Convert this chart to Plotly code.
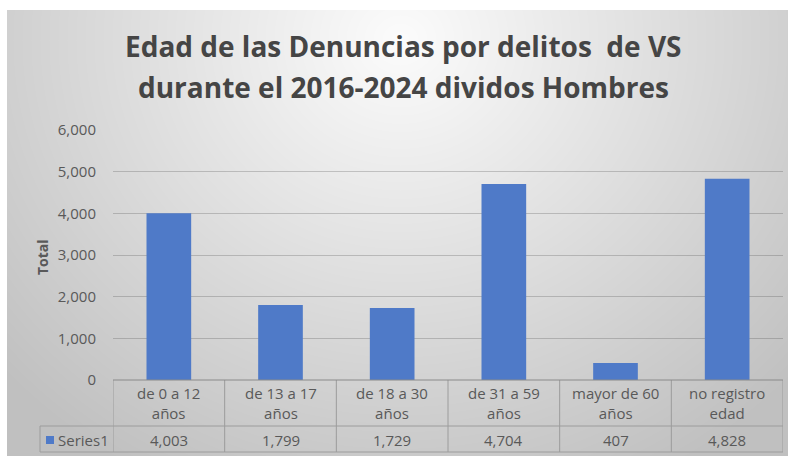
import base64, struct, zlib
import numpy as np
import plotly.graph_objects as go

# ---- data ----
categories = ["de 0 a 12 años", "de 13 a 17 años", "de 18 a 30 años",
              "de 31 a 59 años", "mayor de 60 años", "no registro edad"]
header_labels = ["de 0 a 12<br>años", "de 13 a 17<br>años", "de 18 a 30<br>años",
                 "de 31 a 59<br>años", "mayor de 60<br>años", "no registro<br>edad"]
values = [4003, 1799, 1729, 4704, 407, 4828]
series_name = "Series1"
title_lines = ["Edad de las Denuncias por delitos\u00a0 de VS",
               "durante el 2016-2024 dividos Hombres"]
y_title = "Total"

# ---- layout constants (pixels) ----
W, H = 788, 456
L, R, T, B = 113, 5, 130, 76
PW, PH = W - L - R, H - T - B
TXT = "#595959"
TITLE = "#454545"
BAR = "#4f7ac8"
GRID = "rgba(70,70,70,0.26)"
TBL = "#9c9c9c"
FONT = "Open Sans"


def px(x):
    return (x - L) / PW


def py(y):
    return (H - B - y) / PH


# ---- background radial gradient as PNG ----
bx0, by0, bx1, by1 = 7, 10, 788, 456
bw, bh = bx1 - bx0, by1 - by0
yy, xx = np.mgrid[0:bh, 0:bw]
gx = (xx + bx0 - 400) / 540.0
gy = (yy + by0 - 40) / 500.0
t = np.clip(np.sqrt(gx ** 2 + gy ** 2), 0, 1)
img = (252 - (252 - 192) * t).astype(np.uint8)
raw = b"".join(b"\x00" + img[r].tobytes() for r in range(bh))


def chunk(tag, data):
    c = tag + data
    return struct.pack(">I", len(data)) + c + struct.pack(">I", zlib.crc32(c) & 0xffffffff)


png = (b"\x89PNG\r\n\x1a\n" + chunk(b"IHDR", struct.pack(">IIBBBBB", bw, bh, 8, 0, 0, 0, 0))
       + chunk(b"IDAT", zlib.compress(raw, 9)) + chunk(b"IEND", b""))
bg_uri = "data:image/png;base64," + base64.b64encode(png).decode()

fig = go.Figure()
fig.add_trace(go.Bar(x=categories, y=values, width=0.4, marker=dict(color=BAR, line=dict(width=0)),
                     name=series_name, showlegend=False))

shapes = []
annotations = []

n = len(categories)
y_top, y_mid, y_bot = py(380), py(426), py(452)
for i in range(n + 1):
    shapes.append(dict(type="line", xref="x", yref="paper", x0=i - 0.5, x1=i - 0.5,
                       y0=y_top, y1=y_bot, line=dict(color=TBL, width=1)))
shapes.append(dict(type="line", xref="x", yref="paper", x0=-0.5, x1=n - 0.5, y0=y_top, y1=y_top,
                   line=dict(color="#8a8a8a", width=1)))
shapes.append(dict(type="line", xref="paper", yref="paper", x0=px(40), x1=1, y0=y_mid, y1=y_mid,
                   line=dict(color=TBL, width=1)))
shapes.append(dict(type="line", xref="paper", yref="paper", x0=px(40), x1=1, y0=y_bot, y1=y_bot,
                   line=dict(color=TBL, width=1)))
shapes.append(dict(type="line", xref="paper", yref="paper", x0=px(40), x1=px(40), y0=y_mid, y1=y_bot,
                   line=dict(color=TBL, width=1)))
shapes.append(dict(type="rect", xref="paper", yref="paper", x0=px(46), x1=px(54), y0=py(444), y1=py(436),
                   fillcolor=BAR, line=dict(width=0)))

for i, (lab, v) in enumerate(zip(header_labels, values)):
    annotations.append(dict(xref="x", yref="paper", x=i, y=py(403), text=lab, showarrow=False,
                            font=dict(family=FONT, size=15, color=TXT), align="center",
                            xanchor="center", yanchor="middle"))
    annotations.append(dict(xref="x", yref="paper", x=i, y=py(440), text=f"{v:,}", showarrow=False,
                            font=dict(family=FONT, size=15, color=TXT),
                            xanchor="center", yanchor="middle"))
annotations.append(dict(xref="paper", yref="paper", x=px(56), y=py(440), text=series_name, showarrow=False,
                        font=dict(family=FONT, size=15, color=TXT), xanchor="left", yanchor="middle"))
annotations.append(dict(xref="paper", yref="paper", x=px(42), y=py(257), text=f"<b>{y_title}</b>",
                        showarrow=False, textangle=-90, font=dict(family=FONT, size=14, color=TXT),
                        xanchor="center", yanchor="middle"))
for line, yc in zip(title_lines, [46, 87]):
    annotations.append(dict(xref="paper", yref="paper", x=px(403), y=py(yc), text=f"<b>{line}</b>",
                            showarrow=False, font=dict(family=FONT, size=28, color=TITLE),
                            xanchor="center", yanchor="middle"))

fig.update_layout(
    width=W, height=H, margin=dict(l=L, r=R, t=T, b=B, pad=0),
    paper_bgcolor="white", plot_bgcolor="rgba(0,0,0,0)",
    images=[dict(source=bg_uri, xref="paper", yref="paper", x=px(bx0), y=py(by0),
                 sizex=bw / PW, sizey=bh / PH, sizing="stretch", xanchor="left", yanchor="top",
                 layer="below")],
    shapes=shapes, annotations=annotations,
    xaxis=dict(range=[-0.5, n - 0.5], showticklabels=False, showgrid=False, zeroline=False,
               showline=False, ticks=""),
    yaxis=dict(range=[0, 6000], dtick=1000, tickformat=",", showgrid=True, gridcolor=GRID, gridwidth=1,
               zeroline=False, showline=False, ticks="", ticklabelstandoff=16,
               tickfont=dict(family=FONT, size=15, color=TXT)),
    font=dict(family=FONT, color=TXT),
)

fig.write_html("out.html", config={"displayModeBar": False},
               post_script="document.body.style.margin='0';")
